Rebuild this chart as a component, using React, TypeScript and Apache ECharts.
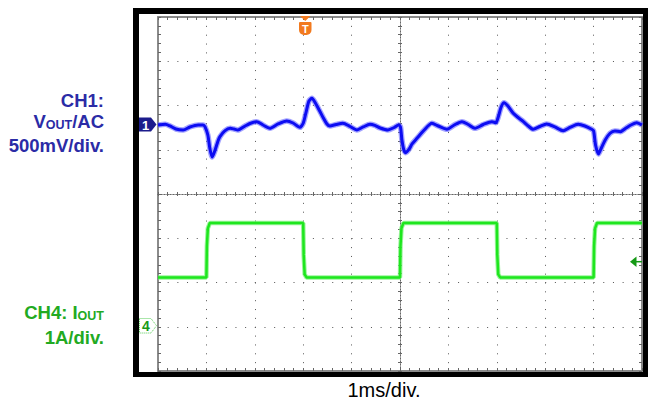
import React, { useEffect, useRef } from "react";
import * as echarts from "echarts";

// CH1: Vout AC-coupled, [time ms, mV relative to CH1 reference]
const ch1Trace: [number, number][] = [
  [0, -6], [0.15, 2], [0.25, -17], [0.37, -51], [0.52, -62], [0.66, -28], [0.83, -6], [0.93, -6],
  [0.97, -25], [1.03, -119], [1.07, -266], [1.12, -367], [1.18, -288], [1.24, -186], [1.28, -138],
  [1.38, -73], [1.49, -43], [1.57, -51], [1.65, -62], [1.8, -17], [1.9, 11], [2.04, 32], [2.17, -6],
  [2.31, -43], [2.48, 6], [2.66, 40], [2.79, 17], [2.93, -32], [3.0, 14], [3.06, 141], [3.12, 266],
  [3.18, 296], [3.24, 254], [3.33, 164], [3.42, 70], [3.49, 6], [3.55, -17], [3.68, 0], [3.82, 14],
  [3.97, -23], [4.11, -62], [4.24, -28], [4.38, 2], [4.48, -11], [4.59, -40], [4.75, -62], [4.88, -34],
  [4.97, -6], [5.01, -28], [5.04, -175], [5.08, -288], [5.12, -318], [5.19, -277], [5.25, -220],
  [5.35, -156], [5.5, -62], [5.66, 14], [5.79, -17], [5.97, -54], [6.12, -6], [6.28, 32], [6.41, 0],
  [6.55, -43], [6.72, 0], [6.9, 32], [6.98, 20], [7.03, 85], [7.09, 198], [7.15, 246], [7.23, 209],
  [7.34, 127], [7.44, 79], [7.55, 32], [7.65, -17], [7.75, -54], [7.89, -23], [8.03, 6], [8.2, -28],
  [8.37, -70], [8.51, -34], [8.68, 2], [8.82, -17], [8.96, -54], [9.0, -73], [9.04, -232], [9.1, -333],
  [9.15, -277], [9.24, -175], [9.34, -99], [9.44, -73], [9.55, -81], [9.67, -40], [9.77, -6],
  [9.89, 20], [10.0, -6],
];

// CH4: Iout, [time ms, A]
const ch4Trace: [number, number][] = [
  [0, 1.09], [1.0, 1.09], [1.01, 1.8], [1.03, 2.2], [1.07, 2.32], [3.0, 2.32], [3.01, 1.6],
  [3.03, 1.16], [3.07, 1.09], [5.0, 1.09], [5.01, 1.8], [5.03, 2.2], [5.07, 2.32], [7.0, 2.32],
  [7.01, 1.6], [7.03, 1.16], [7.07, 1.09], [9.0, 1.09], [9.01, 1.8], [9.03, 2.2], [9.07, 2.32],
  [10.0, 2.32],
];

const ch1Label = ["CH1:", "VOUT/AC", "500mV/div."];
const ch4Label = ["CH4: IOUT", "1A/div."];
const timeLabel = "1ms/div.";

const H_DIVS = 10;
const V_DIVS = 8;
const CH1_MV_PER_DIV = 500;
const CH4_A_PER_DIV = 1;
const CH1_REF_DIV = 5.571; // divisions above bottom
const CH4_REF_DIV = 1.024;

const GRID = { left: 158, top: 17, width: 484, height: 354 };

export default function App() {
  const ref = useRef<HTMLDivElement>(null);
  useEffect(() => {
    if (!ref.current) return;
    const chart = echarts.init(ref.current, null, { renderer: "svg" });
    const g = (extra = {}) => ({ ...GRID, show: false, ...extra });
    const hidden = {
      axisLine: { show: false },
      axisTick: { show: false },
      axisLabel: { show: false },
      splitLine: { show: false },
    };
    const edgeAxis = (pos: string, gi: number, max: number) => ({
      type: "value",
      gridIndex: gi,
      position: pos,
      min: 0,
      max,
      interval: 0.2,
      axisLine: { show: true, onZero: false, lineStyle: { color: "#8a8a8a", width: 2 } },
      axisTick: { show: true, inside: true, length: 3, lineStyle: { color: "#666", width: 1 } },
      axisLabel: { show: false },
      splitLine: { show: false },
    });
    const centerAxis = (gi: number, half: number, inside: boolean) => ({
      type: "value",
      gridIndex: gi,
      min: -half,
      max: half,
      interval: 0.2,
      axisLine: { show: true, onZero: true, lineStyle: { color: "#666", width: 1, type: [1, 2] } },
      axisTick: { show: true, inside, length: 2, lineStyle: { color: "#666", width: 1 } },
      axisLabel: { show: false },
      splitLine: { show: false },
    });

    const ch1Min = -CH1_REF_DIV * CH1_MV_PER_DIV;
    const ch4Min = -CH4_REF_DIV * CH4_A_PER_DIV;

    const tSans = "Liberation Sans, Arial, sans-serif";
    const blue = "#2b2ba6";
    const green = "#22aa22";

    chart.setOption({
      animation: false,
      backgroundColor: "#fff",
      grid: [g(), g(), g(), g(), g(), g()],
      xAxis: [
        {
          type: "value", gridIndex: 0, min: 0, max: H_DIVS, interval: 1,
          axisLine: { show: false }, axisTick: { show: false }, axisLabel: { show: false },
          splitLine: { show: true, lineStyle: { color: "#555", width: 1, type: [1, 7.85] } },
        },
        edgeAxis("bottom", 1, H_DIVS),
        edgeAxis("top", 1, H_DIVS),
        centerAxis(2, H_DIVS / 2, true),
        centerAxis(3, H_DIVS / 2, false),
        { type: "value", gridIndex: 4, min: 0, max: H_DIVS, ...hidden },
        { type: "value", gridIndex: 5, min: 0, max: H_DIVS, ...hidden },
      ],
      yAxis: [
        {
          type: "value", gridIndex: 0, min: 0, max: V_DIVS, interval: 1,
          axisLine: { show: false }, axisTick: { show: false }, axisLabel: { show: false },
          splitLine: { show: true, lineStyle: { color: "#555", width: 1, type: [1, 8.68] } },
        },
        edgeAxis("left", 1, V_DIVS),
        edgeAxis("right", 1, V_DIVS),
        centerAxis(2, V_DIVS / 2, true),
        centerAxis(3, V_DIVS / 2, false),
        { type: "value", gridIndex: 4, min: ch1Min, max: ch1Min + V_DIVS * CH1_MV_PER_DIV, ...hidden },
        { type: "value", gridIndex: 5, min: ch4Min, max: ch4Min + V_DIVS * CH4_A_PER_DIV, ...hidden },
      ],
      series: [
        {
          type: "line", xAxisIndex: 5, yAxisIndex: 5, data: ch1Trace, showSymbol: false, smooth: 0.25,
          lineStyle: { color: "rgba(100,100,255,0.6)", width: 5.5 }, silent: true, z: 3,
        },
        {
          type: "line", xAxisIndex: 5, yAxisIndex: 5, data: ch1Trace, showSymbol: false, smooth: 0.25,
          lineStyle: { color: "#0c0cf2", width: 3 }, silent: true, z: 4,
        },
        {
          type: "line", xAxisIndex: 6, yAxisIndex: 6, data: ch4Trace, showSymbol: false,
          lineStyle: { color: "rgba(110,240,110,0.7)", width: 4.5 }, silent: true, z: 3,
        },
        {
          type: "line", xAxisIndex: 6, yAxisIndex: 6, data: ch4Trace, showSymbol: false,
          lineStyle: { color: "#1ee61e", width: 2.5 }, silent: true, z: 4,
        },
      ],
      graphic: [
        { type: "rect", z: -20, shape: { x: 133, y: 8, width: 515, height: 369 }, style: { fill: "#000" } },
        { type: "rect", z: -19, shape: { x: 139, y: 14, width: 504, height: 358 }, style: { fill: "#fff" } },
        // CH1 marker
        {
          type: "polygon", z: 50,
          shape: { points: [[139, 117.5], [151, 117.5], [156.5, 124.5], [151, 131.5], [139, 131.5]] },
          style: { fill: "#1c1c8c" },
        },
        {
          type: "text", z: 51,
          style: { text: "1", x: 145.5, y: 125, fill: "#fff", font: "bold 13px Liberation Sans", align: "center", verticalAlign: "middle" },
        },
        // CH4 marker
        {
          type: "polygon", z: 50,
          shape: { points: [[139.5, 318.5], [151, 318.5], [156.5, 325.7], [151, 333], [139.5, 333]] },
          style: { fill: "#fff", stroke: "#55cc55", lineWidth: 1, lineDash: [1, 1] },
        },
        {
          type: "text", z: 51,
          style: { text: "4", x: 146, y: 326, fill: "#1a9a1a", font: "bold 14px Liberation Sans", align: "center", verticalAlign: "middle" },
        },
        // trigger marker
        {
          type: "polygon", z: 50,
          shape: { points: [[300, 16], [310.5, 16], [305.25, 21]] },
          style: { fill: "#f27a1f" },
        },
        {
          type: "rect", z: 50,
          shape: { x: 299, y: 22, width: 12.5, height: 13, r: [1, 1, 5, 5] },
          style: { fill: "#f27a1f" },
        },
        {
          type: "text", z: 51,
          style: { text: "T", x: 305.25, y: 28.5, fill: "#fff", font: "bold 11px Liberation Sans", align: "center", verticalAlign: "middle" },
        },
        // trigger level arrow
        {
          type: "polygon", z: 50,
          shape: { points: [[630, 261.7], [636.5, 256.5], [636.5, 267]] },
          style: { fill: "#159915" },
        },
        {
          type: "line", z: 50,
          shape: { x1: 636, y1: 261.7, x2: 642, y2: 261.7 },
          style: { stroke: "#159915", lineWidth: 1.5 },
        },
        // CH1 label
        {
          type: "text", z: 60,
          style: { text: ch1Label[0], x: 104, y: 100, fill: blue, font: `bold 18.5px ${tSans}`, align: "right", verticalAlign: "middle" },
        },
        {
          type: "text", z: 60,
          style: {
            text: `{a|${ch1Label[1].slice(0, 1)}}{b|${ch1Label[1].slice(1, 4)}}{a|${ch1Label[1].slice(4)}}`,
            x: 104, y: 122, align: "right", verticalAlign: "middle",
            rich: {
              a: { fill: blue, fontFamily: tSans, fontWeight: "bold", fontSize: 18.5, lineHeight: 18.5, verticalAlign: "bottom" },
              b: { fill: blue, fontFamily: tSans, fontWeight: "bold", fontSize: 12.5, lineHeight: 12.5, verticalAlign: "bottom" },
            },
          },
        },
        {
          type: "text", z: 60,
          style: { text: ch1Label[2], x: 104, y: 145, fill: blue, font: `bold 18.5px ${tSans}`, align: "right", verticalAlign: "middle" },
        },
        // CH4 label
        {
          type: "text", z: 60,
          style: {
            text: `{a|${ch4Label[0].slice(0, 6)}}{b|${ch4Label[0].slice(6)}}`,
            x: 104, y: 313, align: "right", verticalAlign: "middle",
            rich: {
              a: { fill: green, fontFamily: tSans, fontWeight: "bold", fontSize: 18.5, lineHeight: 18.5, verticalAlign: "bottom" },
              b: { fill: green, fontFamily: tSans, fontWeight: "bold", fontSize: 12.5, lineHeight: 12.5, verticalAlign: "bottom" },
            },
          },
        },
        {
          type: "text", z: 60,
          style: { text: ch4Label[1], x: 104, y: 337, fill: green, font: `bold 18.5px ${tSans}`, align: "right", verticalAlign: "middle" },
        },
        // time label
        {
          type: "text", z: 60,
          style: { text: timeLabel, x: 384, y: 390, fill: "#000", font: `20px ${tSans}`, align: "center", verticalAlign: "middle" },
        },
      ],
    });
    return () => chart.dispose();
  }, []);
  return (
    <div
      ref={ref}
      style={{ position: "fixed", left: 0, top: 0, width: 648, height: 401 }}
    />
  );
}
